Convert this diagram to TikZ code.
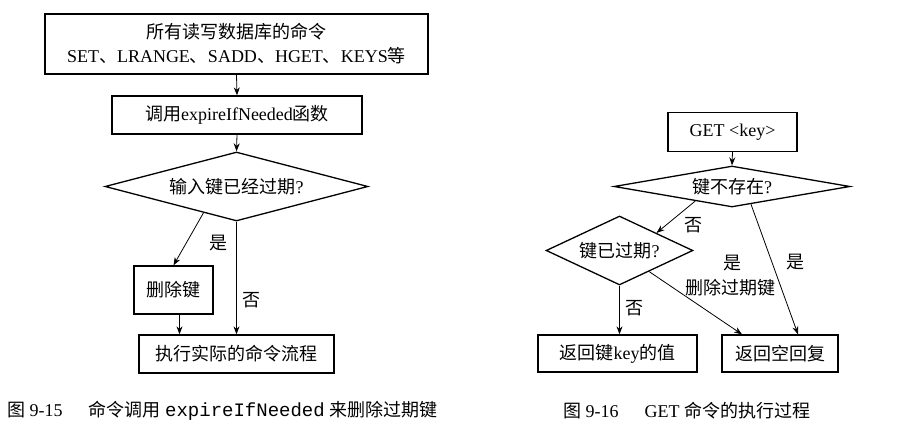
\documentclass[tikz,border=0pt]{standalone}
\usepackage{fontspec}
\setmainfont{Liberation Serif}
\setmonofont{Liberation Mono}
\newfontfamily\cjk{Noto Sans CJK SC}
\newcommand\zh[1]{{\cjk #1}}
\usetikzlibrary{shapes.geometric,arrows.meta,calc}
\begin{document}
\begin{tikzpicture}[x=1pt,y=-1pt,
  txt/.style={font=\fontsize{18}{22}\selectfont},
  box/.style={txt,draw,line width=1.3pt,inner sep=0pt,align=center},
  dia/.style={txt,draw,shape=diamond,line width=1.3pt,inner sep=0pt,aspect=4},
  arr/.style={-{Stealth[length=8pt,width=6pt]},line width=0.8pt},
  lab/.style={txt,inner sep=0pt},
  captext/.style={font=\fontsize{18}{22}\selectfont,inner sep=0pt,anchor=west}]
\useasboundingbox[fill=white] (0,0) rectangle (897,430);

% ---- left figure ----
\node[box,minimum width=383pt,minimum height=60pt] (top) at (236.5,44)
  {\zh{所有读写数据库的命令}\\[2pt]SET\zh{、}LRANGE\zh{、}SADD\zh{、}HGET\zh{、}KEYS\zh{等}};
\node[box,minimum width=250pt,minimum height=38pt] (call) at (237,115)
  {\zh{调用}expireIfNeeded\zh{函数}};
\node[dia,minimum width=263pt,minimum height=69pt] (d1) at (236.5,186.5)
  {\zh{输入键已经过期}?};
\node[box,minimum width=79pt,minimum height=48pt] (del) at (173.5,290) {\zh{删除键}};
\node[box,minimum width=195pt,minimum height=38pt] (exec) at (236.5,354)
  {\zh{执行实际的命令流程}};

\draw[arr] (top.south) -- (call.north);
\draw[arr] (call.south) -- (d1.north);
\draw[arr] ($(d1.south west)!0.5!(d1.south)$) -- (del.north);
\draw[arr] (d1.south) -- (d1.south |- exec.north);
\coordinate (dd) at ([xshift=6pt]del.south);
\draw[arr] (dd) -- (dd |- exec.north);
\node[lab] (l1) at (218,243) {\zh{是}};
\node[lab] (l2) at (251,300) {\zh{否}};

\node[captext] (cap1) at (7,411)
  {\zh{图} 9-15\hspace{26pt}\zh{命令调用} {\ttfamily\fontsize{19}{22}\selectfont expireIfNeeded} \zh{来删除过期键}};

% ---- right figure ----
\node[box,minimum width=129pt,minimum height=39pt] (get) at (732.5,132) {GET <key>};
\node[dia,minimum width=236pt,minimum height=41pt] (rd1) at (732,186.5) {\zh{键不存在}?};
\node[dia,minimum width=141pt,minimum height=69pt] (rd2) at (619.5,250.5) {\zh{键已过期}?};
\node[box,minimum width=159pt,minimum height=37pt] (r1) at (617.5,353.5) {\zh{返回键}key\zh{的值}};
\node[box,minimum width=116pt,minimum height=37pt] (r2) at (780,353.5) {\zh{返回空回复}};

\draw[arr] (get.south) -- (rd1.north);
\draw[arr] ($(rd1.south west)!0.38!(rd1.south)$) -- (rd2.north east);
\draw[arr] (rd2.south) -- (rd2.south |- r1.north);
\draw[arr] ($(rd2.south)!0.4!(rd2.east)$) -- ([xshift=-38pt]r2.north);
\draw[arr] ($(rd1.south)!0.16!(rd1.east)$) -- ([xshift=18pt]r2.north);

\node[lab] (l3) at (693,225) {\zh{否}};
\node[lab] (l4) at (634,308) {\zh{否}};
\node[lab] (l5) at (732,263) {\zh{是}};
\node[lab] (l6) at (730,288) {\zh{删除过期键}};
\node[lab] (l7) at (795,262) {\zh{是}};

\node[captext] (cap2) at (563,411) {\zh{图} 9-16\hspace{26pt}GET \zh{命令的执行过程}};
\end{tikzpicture}
\end{document}
